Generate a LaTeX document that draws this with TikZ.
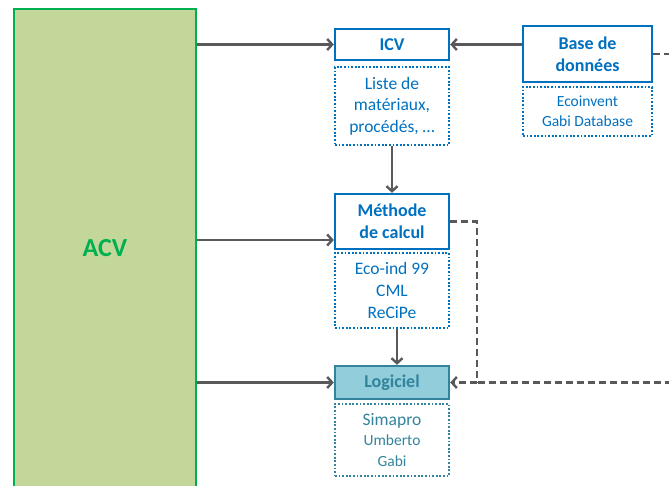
\documentclass[tikz,border=0pt]{standalone}
\usepackage{fontspec}
\setmainfont{Carlito}
\usetikzlibrary{arrows.meta}
\definecolor{acvfill}{HTML}{C4D79B}
\definecolor{acvgreen}{HTML}{00B050}
\definecolor{bblue}{HTML}{0070C0}
\definecolor{teal}{HTML}{31849B}
\definecolor{lfill}{HTML}{92CDDC}
\definecolor{agray}{HTML}{595959}
\tikzset{
  mainbox/.style={draw=bblue, line width=2.4pt, fill=white, text=bblue, font=\bfseries\fontsize{18}{22}\selectfont, align=center, inner sep=0pt, minimum width=114pt},
  listbox/.style={draw=bblue, line width=2pt, dash pattern=on 1.8pt off 1.8pt, text=bblue, font=\fontsize{17.5}{21.5}\selectfont, align=center, inner sep=0pt, minimum width=114pt},
  conn/.style={draw=agray, line width=2.4pt, -{Straight Barb[length=5pt,width=11pt,line width=2.4pt]}},
  dconn/.style={draw=agray, line width=2.4pt, dash pattern=on 7pt off 4pt},
}
\begin{document}
\begin{tikzpicture}[x=1pt,y=-1pt]
\useasboundingbox (0,0) rectangle (669,486);
\clip (0,0) rectangle (669,486);
% ACV
\node[draw=acvgreen, line width=2.2pt, fill=acvfill, minimum width=182pt, minimum height=478pt, inner sep=0pt,
  text=acvgreen, font=\bfseries\fontsize{26}{30}\selectfont] (acv) at (105,248) {ACV};
% ICV
\node[mainbox, minimum height=31pt] (icv) at (392,44.5) {ICV};
\node[listbox, minimum height=78pt] (icvl) at (392,106) {Liste de\\matériaux,\\procédés, …};
% Base de donnees
\node[mainbox, minimum width=129pt, minimum height=56pt] (base) at (587.5,54) {Base de\\données};
\node[listbox, minimum width=129pt, minimum height=49pt, font=\fontsize{15.5}{20}\selectfont] (basel) at (587.5,111.5) {Ecoinvent\\Gabi Database};
% Methode
\node[mainbox, minimum height=55pt] (meth) at (392,221.5) {Méthode\\de calcul};
\node[listbox, minimum height=75pt, font=\fontsize{17.5}{22}\selectfont] (methl) at (392,290.5) {Eco-ind 99\\CML\\ReCiPe};
% Logiciel
\node[mainbox, draw=teal, fill=lfill, text=teal, minimum height=33pt] (log) at (392,382.5) {Logiciel};
\node[listbox, draw=teal, text=teal, minimum height=72pt, font=\fontsize{15.5}{20.5}\selectfont] (logl) at (392,440) {{\fontsize{17.5}{20.5}\selectfont Simapro}\\Umberto\\Gabi};
% coordinates
\coordinate (c1) at (477,382.5);
\coordinate (r1) at (672,54);
\coordinate (r2) at (672,382.5);
% connectors
\draw[conn] (acv.east |- icv.west) -- (icv.west);
\draw[conn] (acv.east |- 0,240) -- (meth.west |- 0,240);
\draw[conn] (acv.east |- log.west) -- (log.west);
\draw[conn] (base.west |- icv.east) -- (icv.east);
\draw[conn] (icvl.south) -- (meth.north);
\draw[conn] ([xshift=5pt]methl.south) -- ([xshift=5pt]log.north);
\draw[dconn] (base.east) -- (r1);
\draw[dconn] (r2) -- (c1);
\draw[dconn] (meth.east) -| (c1);
\draw[conn, dash pattern=on 7pt off 4pt] (c1) -- (log.east);
\end{tikzpicture}
\end{document}
